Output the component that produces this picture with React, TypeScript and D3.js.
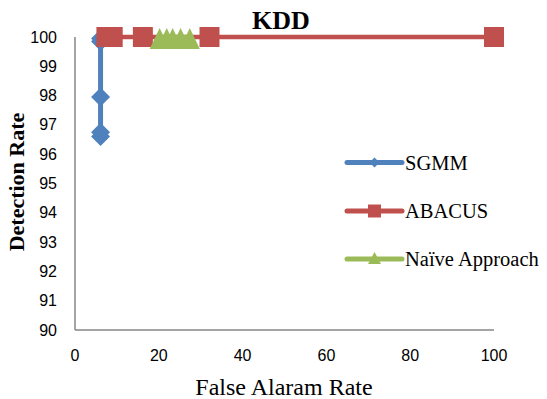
import { FC } from 'react';
import * as d3 from 'd3';

// series (x = false alarm rate, y = detection rate)
const sgmmX = [6.1, 6.1, 6.1, 6.1, 6.1];
const sgmmY = [96.6, 96.75, 97.95, 99.85, 99.95];

const abacusX = [7.5, 9, 16.2, 32.1, 100];
const abacusY = [100, 100, 100, 100, 100];

const naiveX = [20.2, 21.9, 23.3, 25.2, 27.4];
const naiveY = [100, 100, 100, 100, 100];

const xTicks = [0, 20, 40, 60, 80, 100];
const yTicks = [90, 91, 92, 93, 94, 95, 96, 97, 98, 99, 100];

const seriesNames = ['SGMM', 'ABACUS', 'Naïve Approach'];

const BLUE = '#4F81BD';
const RED = '#C0504D';
const GREEN = '#9BBB59';
const AXIS = '#868686';

type Pt = { x: number; y: number };

const zip = (xs: number[], ys: number[]): Pt[] => xs.map((x, i) => ({ x, y: ys[i] }));

const diamond = (cx: number, cy: number, w: number, h: number) =>
  `M${cx},${cy - h / 2}L${cx + w / 2},${cy}L${cx},${cy + h / 2}L${cx - w / 2},${cy}Z`;
const square = (cx: number, cy: number, s: number) =>
  `M${cx - s / 2},${cy - s / 2}h${s}v${s}h${-s}Z`;
const triangle = (cx: number, cy: number, w: number, h: number) =>
  `M${cx},${cy - h / 2}L${cx + w / 2},${cy + h / 2}L${cx - w / 2},${cy + h / 2}Z`;

const App: FC = () => {
  const width = 547, height = 399;

  const x = d3.scaleLinear().domain([0, 100]).range([75, 494]);
  const y = d3.scaleLinear().domain([90, 100]).range([330, 37]);

  const line = d3.line<Pt>().x(d => x(d.x)).y(d => y(d.y));

  const sgmm = zip(sgmmX, sgmmY);
  const abacus = zip(abacusX, abacusY);
  const naive = zip(naiveX, naiveY);

  const legendY = [162.5, 211, 259];
  const lx0 = 347, lx1 = 402;
  const lmid = (lx0 + lx1) / 2;

  return (
    <svg width={width} height={height} style={{ position: 'absolute', left: 0, top: 0, background: '#fff' }}>
      {/* axes */}
      <line x1={x(0)} x2={x(0)} y1={y(100)} y2={y(90)} stroke={AXIS} strokeWidth={1.5} />
      <line x1={x(0)} x2={x(100)} y1={y(90)} y2={y(90)} stroke={AXIS} strokeWidth={1.5} />

      <g fontFamily="'Liberation Sans', Arial, sans-serif" fontSize={16} fill="#000">
        {yTicks.map(t => (
          <text key={'y' + t} x={57} y={y(t)} textAnchor="end" dominantBaseline="central">{t}</text>
        ))}
        {xTicks.map(t => (
          <text key={'x' + t} x={x(t)} y={355} textAnchor="middle" dominantBaseline="central">{t}</text>
        ))}
      </g>

      {/* SGMM */}
      <path d={line(sgmm) || ''} fill="none" stroke={BLUE} strokeWidth={5} strokeLinejoin="round" />
      {sgmm.map((d, i) => (
        <path key={'s' + i} d={diamond(x(d.x), y(d.y), 19, 19)} fill={BLUE} />
      ))}

      {/* ABACUS */}
      <path d={line(abacus) || ''} fill="none" stroke={RED} strokeWidth={4.5} />
      {abacus.map((d, i) => (
        <path key={'a' + i} d={square(x(d.x), y(d.y), 20)} fill={RED} />
      ))}

      {/* Naive */}
      <path d={line(naive) || ''} fill="none" stroke={GREEN} strokeWidth={4.5} />
      {naive.map((d, i) => (
        <path key={'n' + i} d={triangle(x(d.x), y(d.y) + 1.5, 20, 21)} fill={GREEN} />
      ))}

      {/* legend */}
      <line x1={lx0} x2={lx1} y1={legendY[0]} y2={legendY[0]} stroke={BLUE} strokeWidth={5} strokeLinecap="round" />
      <path d={diamond(lmid, legendY[0], 10, 10)} fill={BLUE} />
      <line x1={lx0} x2={lx1} y1={legendY[1]} y2={legendY[1]} stroke={RED} strokeWidth={5} strokeLinecap="round" />
      <path d={square(lmid, legendY[1], 13)} fill={RED} />
      <line x1={lx0} x2={lx1} y1={legendY[2]} y2={legendY[2]} stroke={GREEN} strokeWidth={5} strokeLinecap="round" />
      <path d={triangle(lmid, legendY[2] - 1, 13, 12)} fill={GREEN} />
      <g fontFamily="'Liberation Serif', 'Times New Roman', serif" fontSize={20.5} fill="#000">
        {seriesNames.map((n, i) => (
          <text key={n} x={405} y={legendY[i]} dominantBaseline="central">{n}</text>
        ))}
      </g>

      {/* titles */}
      <text x={281} y={29} textAnchor="middle" fontFamily="'Liberation Serif', 'Times New Roman', serif"
        fontWeight="bold" fontSize={26}>KDD</text>
      <text x={395 - 0} y={0} textAnchor="middle" fontFamily="'Liberation Serif', 'Times New Roman', serif"
        fontSize={24} transform="translate(-111,395)">False Alaram Rate</text>
      <text transform="translate(24,182) rotate(-90)" textAnchor="middle"
        fontFamily="'Liberation Serif', 'Times New Roman', serif" fontWeight="bold" fontSize={22}>Detection Rate</text>
    </svg>
  );
};

export default App;
